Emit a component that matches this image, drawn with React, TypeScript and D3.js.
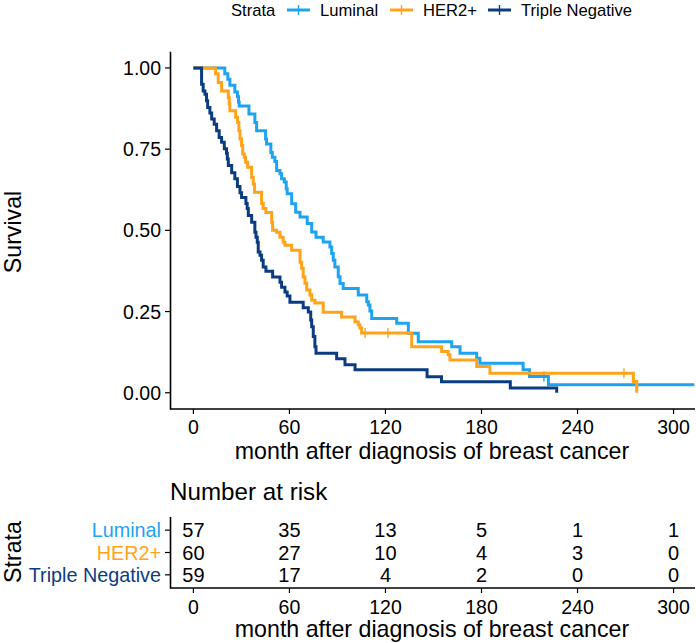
import React from "react";
import * as d3 from "d3";

const strata = ["Luminal", "HER2+", "Triple Negative"];
const colors = ["#1ea3f0", "#ffa31a", "#0c3c80"];

const lumTime = [0, 19.6, 21.5, 22.8, 25.9, 27.5, 28.2, 28.6, 34.7, 38.4, 39.5, 45.1, 45.7, 48.4, 49.3, 50.9, 52, 54.1, 55.1, 56.8, 58, 58.6, 61.4, 63.9, 66.6, 71.1, 73.9, 76.6, 81.1, 85.3, 86.4, 87.4, 88.4, 90.5, 91.6, 93.6, 103, 108.3, 109.3, 110.3, 111.4, 127, 134.3, 140.5, 161.4, 166.6, 177, 179, 206, 210, 221.8, 313];
const lumSurv = [1, 0.982, 0.965, 0.947, 0.926, 0.912, 0.894, 0.883, 0.858, 0.832, 0.807, 0.781, 0.766, 0.74, 0.725, 0.712, 0.684, 0.674, 0.659, 0.649, 0.628, 0.613, 0.582, 0.556, 0.541, 0.521, 0.495, 0.479, 0.464, 0.449, 0.429, 0.408, 0.387, 0.357, 0.336, 0.321, 0.301, 0.28, 0.27, 0.252, 0.229, 0.214, 0.183, 0.157, 0.142, 0.122, 0.106, 0.091, 0.071, 0.05, 0.025, 0.025];
const lumCensTime = [219];
const lumCensSurv = [0.05];

const herTime = [0, 13.9, 15.5, 17.6, 21.8, 22.4, 22.8, 26.4, 27.6, 28.4, 29.1, 30.1, 30.8, 31.8, 32.6, 33.9, 36.4, 37.4, 38.2, 42.6, 43.6, 45.3, 48.9, 49.5, 52, 54.1, 56.1, 57.2, 61.4, 66.6, 67.6, 68.6, 69.7, 70.8, 72.8, 73.9, 75.9, 81.1, 92.6, 101, 103, 104, 105.1, 136.4, 155.1, 159.2, 160.3, 177, 185.3, 274.9, 277];
const herSurv = [1, 0.982, 0.955, 0.929, 0.909, 0.889, 0.868, 0.848, 0.832, 0.807, 0.781, 0.761, 0.735, 0.725, 0.71, 0.694, 0.663, 0.643, 0.617, 0.583, 0.567, 0.555, 0.525, 0.5, 0.494, 0.479, 0.463, 0.454, 0.439, 0.402, 0.383, 0.356, 0.337, 0.316, 0.301, 0.285, 0.276, 0.248, 0.233, 0.218, 0.209, 0.199, 0.184, 0.142, 0.127, 0.117, 0.101, 0.081, 0.06, 0.035, 0];
const herCensTime = [107.3, 121.5, 269];
const herCensSurv = [0.184, 0.184, 0.06];

const tnTime = [0, 5.1, 6.1, 7.2, 8.2, 8.9, 10.3, 11.4, 13, 14.5, 16.1, 17.6, 19.3, 20.7, 21.2, 21.8, 23.9, 25.9, 27.5, 29.1, 30.1, 32.8, 33.6, 34.3, 36.4, 38.4, 39.1, 39.9, 40.5, 41.6, 42.6, 43.6, 45.3, 49.5, 54.1, 55.1, 57.2, 58.6, 60.3, 68.6, 71.8, 73.3, 73.9, 74.9, 75.9, 76.6, 89.5, 94.7, 101, 146, 155, 198, 227];
const tnSurv = [1, 0.95, 0.929, 0.919, 0.899, 0.878, 0.861, 0.843, 0.827, 0.807, 0.786, 0.771, 0.751, 0.737, 0.72, 0.7, 0.677, 0.659, 0.635, 0.616, 0.601, 0.583, 0.567, 0.546, 0.525, 0.494, 0.479, 0.463, 0.433, 0.423, 0.408, 0.387, 0.374, 0.356, 0.34, 0.325, 0.31, 0.298, 0.279, 0.262, 0.249, 0.224, 0.203, 0.173, 0.142, 0.122, 0.105, 0.086, 0.071, 0.049, 0.034, 0.015, 0];
const tnCensTime: number[] = [];
const tnCensSurv: number[] = [];

const xTicks = [0, 60, 120, 180, 240, 300];
const yTicks = [0, 0.25, 0.5, 0.75, 1];
const riskLum = [57, 35, 13, 5, 1, 1];
const riskHer = [60, 27, 10, 4, 3, 0];
const riskTn = [59, 17, 4, 2, 0, 0];

const FONT = "'Liberation Sans', Arial, Helvetica, sans-serif";

export default function App() {
  const x = d3.scaleLinear().domain([-14, 313.4]).range([171, 695]);
  const y = d3.scaleLinear().domain([-0.05, 1.05]).range([409, 51.7]);
  const line = d3
    .line<[number, number]>()
    .x((d) => x(d[0]))
    .y((d) => y(d[1]))
    .curve(d3.curveStepAfter);

  const series = [
    { t: lumTime, s: lumSurv, ct: lumCensTime, cs: lumCensSurv },
    { t: herTime, s: herSurv, ct: herCensTime, cs: herCensSurv },
    { t: tnTime, s: tnSurv, ct: tnCensTime, cs: tnCensSurv },
  ];

  const risk = [riskLum, riskHer, riskTn];
  const ry = d3.scaleBand<string>().domain(strata).range([519, 586]).padding(0);

  const legendItems = [
    { key: 287, text: 320 },
    { key: 390, text: 423 },
    { key: 488, text: 521 },
  ];

  return (
    <svg width={696} height={643} style={{ display: "block", position: "absolute", left: 0, top: 0 }} fontFamily={FONT}>
      <rect width={696} height={643} fill="#fff" />
      {/* legend */}
      <text x={231} y={10} fontSize={16.6} dominantBaseline="central" fill="#000">Strata</text>
      {legendItems.map((l, i) => (
        <g key={i}>
          <line x1={l.key} x2={l.key + 23} y1={10} y2={10} stroke={colors[i]} strokeWidth={3} />
          <line x1={l.key + 11.5} x2={l.key + 11.5} y1={5} y2={15} stroke={colors[i]} strokeWidth={1.4} />
          <text x={l.text} y={10} fontSize={16.6} dominantBaseline="central" fill="#000">{strata[i]}</text>
        </g>
      ))}

      {/* curves */}
      {series.map((sr, i) => (
        <g key={i}>
          <path
            d={line(sr.t.map((t, j) => [t, sr.s[j]] as [number, number])) || ""}
            fill="none"
            stroke={colors[i]}
            strokeWidth={3}
          />
          {sr.ct.map((t, j) => (
            <g key={j}>
              <line x1={x(t)} x2={x(t)} y1={y(sr.cs[j]) - 5} y2={y(sr.cs[j]) + 5} stroke={colors[i]} strokeWidth={1.4} />
              <line x1={x(t) - 5} x2={x(t) + 5} y1={y(sr.cs[j])} y2={y(sr.cs[j])} stroke={colors[i]} strokeWidth={1.4} />
            </g>
          ))}
        </g>
      ))}

      {/* main axes */}
      <line x1={170.5} x2={170.5} y1={51.7} y2={409.5} stroke="#000" strokeWidth={1.6} />
      <line x1={170} x2={695} y1={409} y2={409} stroke="#000" strokeWidth={1.6} />
      {yTicks.map((v) => (
        <g key={v}>
          <line x1={165} x2={170} y1={y(v)} y2={y(v)} stroke="#000" strokeWidth={1.2} />
          <text x={161} y={y(v)} fontSize={19.5} textAnchor="end" dominantBaseline="central" fill="#000">
            {v.toFixed(2)}
          </text>
        </g>
      ))}
      {xTicks.map((v) => (
        <g key={v}>
          <line x1={x(v)} x2={x(v)} y1={409} y2={414} stroke="#000" strokeWidth={1.2} />
          <text x={x(v)} y={427} fontSize={19.5} textAnchor="middle" dominantBaseline="central" fill="#000">
            {v}
          </text>
        </g>
      ))}
      <text x={432} y={451} fontSize={23.2} textAnchor="middle" dominantBaseline="central" fill="#000">
        month after diagnosis of breast cancer
      </text>
      <text transform={`translate(13,232) rotate(-90)`} fontSize={23.2} textAnchor="middle" dominantBaseline="central" fill="#000">
        Survival
      </text>

      {/* risk table */}
      <text x={170} y={491} fontSize={24.2} dominantBaseline="central" fill="#000">Number at risk</text>
      <line x1={170.5} x2={170.5} y1={517} y2={588.5} stroke="#000" strokeWidth={1.6} />
      <line x1={170} x2={695} y1={588} y2={588} stroke="#000" strokeWidth={1.6} />
      {strata.map((s, i) => {
        const cy = (ry(s) || 0) + ry.bandwidth() / 2;
        return (
          <g key={s}>
            <line x1={165} x2={170} y1={cy} y2={cy} stroke="#000" strokeWidth={1.2} />
            <text x={161} y={cy} fontSize={19.8} textAnchor="end" dominantBaseline="central" fill={colors[i]}>
              {s}
            </text>
            {risk[i].map((n, j) => (
              <text key={j} x={x(xTicks[j])} y={cy} fontSize={20} textAnchor="middle" dominantBaseline="central" fill="#000">
                {n}
              </text>
            ))}
          </g>
        );
      })}
      {xTicks.map((v) => (
        <g key={v}>
          <line x1={x(v)} x2={x(v)} y1={588} y2={593} stroke="#000" strokeWidth={1.2} />
          <text x={x(v)} y={607} fontSize={19.5} textAnchor="middle" dominantBaseline="central" fill="#000">
            {v}
          </text>
        </g>
      ))}
      <text x={432} y={629} fontSize={23.2} textAnchor="middle" dominantBaseline="central" fill="#000">
        month after diagnosis of breast cancer
      </text>
      <text transform={`translate(13,552) rotate(-90)`} fontSize={23.2} textAnchor="middle" dominantBaseline="central" fill="#000">
        Strata
      </text>
    </svg>
  );
}
